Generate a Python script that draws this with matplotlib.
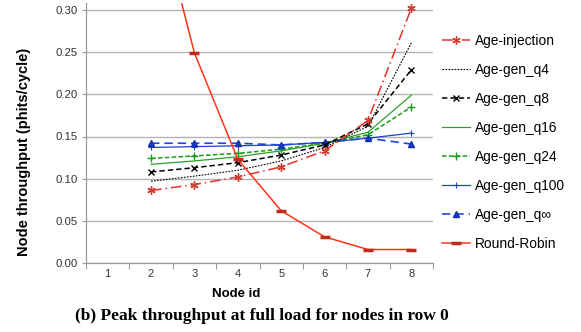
import matplotlib
matplotlib.use("Agg")
import matplotlib.pyplot as plt
import numpy as np

nodes = [1, 2, 3, 4, 5, 6, 7, 8]
node_labels = ["1", "2", "3", "4", "5", "6", "7", "8"]
data_nodes = [2, 3, 4, 5, 6, 7, 8]

age_injection = [0.086, 0.093, 0.102, 0.114, 0.133, 0.169, 0.302]
age_gen_q4 = [0.097, 0.103, 0.110, 0.121, 0.137, 0.162, 0.261]
age_gen_q8 = [0.108, 0.113, 0.119, 0.128, 0.140, 0.165, 0.229]
age_gen_q16 = [0.117, 0.121, 0.126, 0.133, 0.142, 0.155, 0.199]
age_gen_q24 = [0.124, 0.127, 0.130, 0.135, 0.142, 0.152, 0.185]
age_gen_q100 = [0.137, 0.138, 0.139, 0.140, 0.143, 0.148, 0.154]
age_gen_qinf = [0.142, 0.142, 0.142, 0.140, 0.143, 0.148, 0.141]
round_robin = [0.45, 0.249, 0.123, 0.062, 0.031, 0.016, 0.016]

yticks = [0.00, 0.05, 0.10, 0.15, 0.20, 0.25, 0.30]

plt.rcParams['font.family'] = ['Liberation Sans', 'DejaVu Sans']

fig = plt.figure(figsize=(5.81, 3.32), dpi=100)
ax = fig.add_axes([86/581, 1-263/332, (433-86)/581, 260/332])

red = '#e8302a'
ax.plot(data_nodes, age_injection, color=red, lw=1.1, ls=(0, (7, 2.5, 1, 2.5)),
        marker=(6, 2, 0), ms=6, mew=1.0, mec='#d04030', label='Age-injection', zorder=5)
ax.plot(data_nodes, age_gen_q4, color='black', lw=0.8, ls=(0, (1.5, 1.2)),
        label='Age-gen_q4', zorder=4)
ax.plot(data_nodes, age_gen_q8, color='black', lw=1.1, ls=(0, (3.5, 2)),
        marker='x', ms=5, mew=1.0, label='Age-gen_q8', zorder=4)
ax.plot(data_nodes, age_gen_q16, color='#2ca02c', lw=0.9, ls='-',
        label='Age-gen_q16', zorder=3)
ax.plot(data_nodes, age_gen_q24, color='#1a9a1a', lw=1.1, ls=(0, (3, 1.5)),
        marker='+', ms=6, mew=1.0, label='Age-gen_q24', zorder=3)
ax.plot(data_nodes, age_gen_q100, color='#1f3fd0', lw=0.9, ls='-',
        marker='+', ms=4, mew=0.8, label='Age-gen_q100', zorder=3)
ax.plot(data_nodes, age_gen_qinf, color='#2244dd', lw=1.2, ls=(0, (5, 3)),
        marker='^', ms=5, mec='#1030b0', mfc='#1a3ad0', label='Age-gen_q\u221e', zorder=3)
ax.plot(data_nodes, round_robin, color='#ff3318', lw=1.1, ls='-',
        marker='_', ms=7, mew=2.5, mec='#c02a1a', label='Round-Robin', zorder=6)

ax.set_xlim(0.5, 8.5)
ax.set_ylim(0, (263-3)/253*0.30)
ax.set_yticks(yticks)
ax.set_yticklabels([f"{v:.2f}" for v in yticks], fontsize=8.2)
ax.set_xticks(nodes)
ax.set_xticklabels(node_labels, fontsize=8)
ax.set_xticks(np.arange(0.5, 9.0, 1.0), minor=True)
ax.tick_params(axis='x', which='major', length=0, pad=4, colors='#333333')
ax.tick_params(axis='x', which='minor', length=4, color='#999999', width=0.8)
ax.tick_params(axis='y', length=3, pad=3, color='#999999', width=0.8, colors='#333333')

ax.grid(axis='y', color='#b3b3b3', lw=1.0)
ax.set_axisbelow(True)
for s in ['top', 'right']:
    ax.spines[s].set_visible(False)
for s in ['left', 'bottom']:
    ax.spines[s].set_color('#999999')
    ax.spines[s].set_linewidth(0.9)

ax.set_ylabel('Node throughput (phits/cycle)', fontsize=10.5, fontweight='bold')
ax.yaxis.set_label_coords(-0.158, 0.427)
ax.set_xlabel('Node id', fontsize=9.5, fontweight='bold')
ax.xaxis.set_label_coords(0.432, -0.097)

leg = ax.legend(loc='center left', bbox_to_anchor=(442/581, 1-142.5/332),
                bbox_transform=fig.transFigure, frameon=False,
                fontsize=9.9, handlelength=2.04, labelspacing=1.09, handletextpad=0.36,
                borderaxespad=0, borderpad=0)

fig.text(262/581, 1-316/332, '(b) Peak throughput at full load for nodes in row 0',
         ha='center', va='center', fontsize=12.5, fontweight='bold',
         family=['Liberation Serif', 'DejaVu Serif'])

fig.savefig('out.png', dpi=100)
